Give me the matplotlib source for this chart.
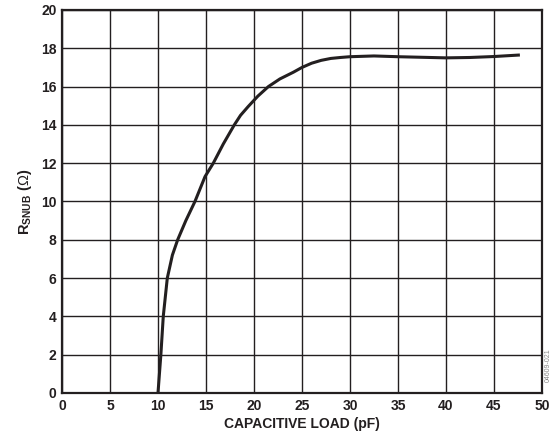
import matplotlib
matplotlib.use("Agg")
import matplotlib.pyplot as plt

# capacitive load (pF) vs snubber resistance (ohm)
cap_load = [10.0, 10.15, 10.3, 10.55, 10.97, 11.5, 12.05, 12.9, 13.85, 14.9, 15.76,
            16.8, 17.95, 18.6, 19.4, 20.4, 21.5, 22.7, 24.1, 25.0, 26.0, 27.0,
            28.0, 29.0, 30.0, 32.5, 35.0, 37.5, 40.0, 42.5, 45.0, 47.7]
r_snub = [0.0, 1.0, 2.0, 4.0, 6.0, 7.2, 8.0, 9.0, 10.0, 11.3, 12.0,
          13.0, 14.0, 14.5, 14.96, 15.5, 16.0, 16.4, 16.75, 17.0, 17.22, 17.37,
          17.47, 17.52, 17.56, 17.6, 17.56, 17.53, 17.5, 17.52, 17.57, 17.65]

x_ticks = list(range(0, 51, 5))
y_ticks = list(range(0, 21, 2))

plt.rcParams['font.family'] = ['Liberation Sans', 'DejaVu Sans']
plt.rcParams['mathtext.fontset'] = 'custom'
plt.rcParams['mathtext.bf'] = 'Liberation Sans:bold'
plt.rcParams['mathtext.rm'] = 'Liberation Sans'

fig = plt.figure(figsize=(5.57, 4.44), dpi=100)
ax = fig.add_axes([0.1113, 0.1149, 0.8617, 0.8626])

ax.plot(cap_load, r_snub, color='#231f20', linewidth=2.2, solid_capstyle='butt')

ax.set_xlim(0, 50)
ax.set_ylim(0, 20)
ax.set_xticks(x_ticks)
ax.set_yticks(y_ticks)
ax.grid(True, color='#231f20', linewidth=1.0)
ax.set_axisbelow(True)
ax.tick_params(length=0, pad=4, labelsize=10, colors='#231f20')
for lbl in ax.get_xticklabels() + ax.get_yticklabels():
    lbl.set_fontweight('bold')
for sp in ax.spines.values():
    sp.set_linewidth(1.6)
    sp.set_color('#231f20')

ax.set_xlabel('CAPACITIVE LOAD (pF)', fontsize=10, fontweight='bold', color='#231f20', labelpad=3)
ax.set_ylabel(r'R$_{\mathbf{SNUB}}$ ($\Omega$)', fontsize=10.5, fontweight='bold', color='#231f20', labelpad=5)

fig.text(0.985, 0.178, '04609-021', rotation=90, fontsize=5, color='#888888',
         ha='center', va='center')

fig.savefig('out.png', dpi=100)
